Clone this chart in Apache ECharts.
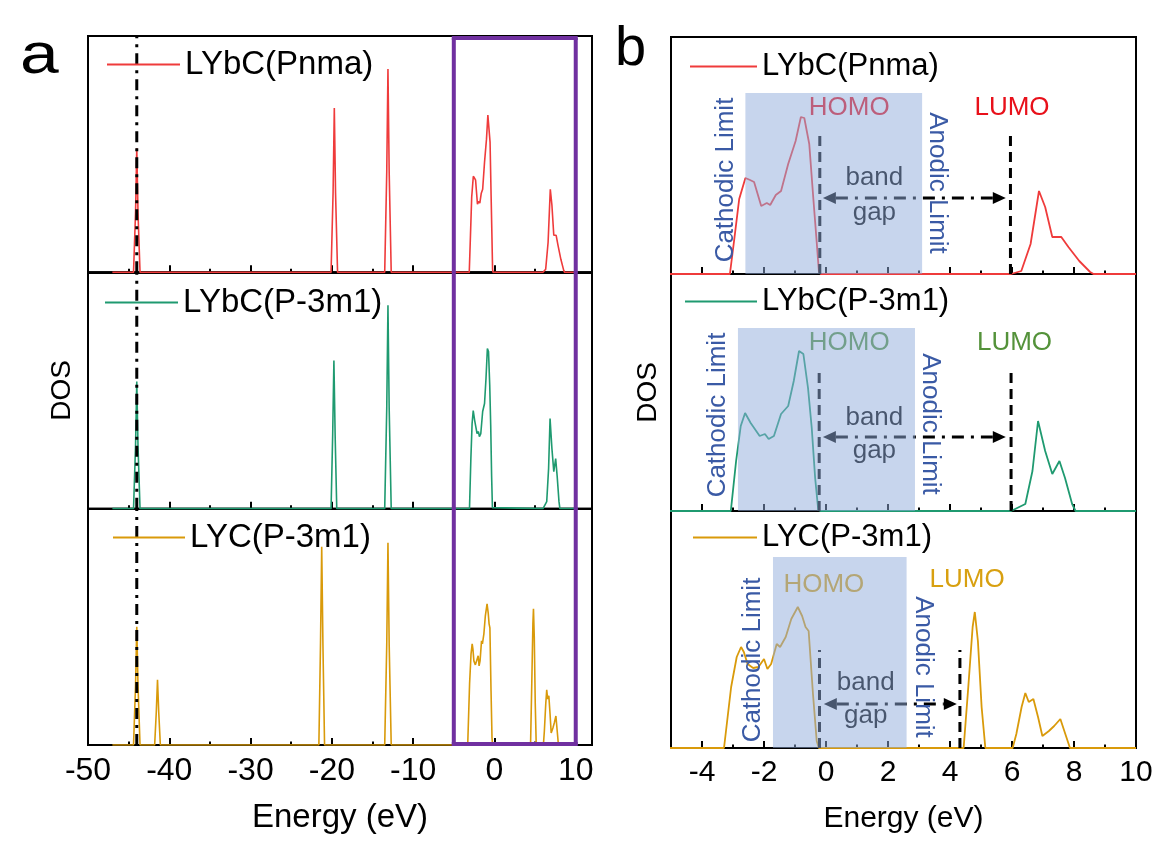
<!DOCTYPE html>
<html><head><meta charset="utf-8">
<script src="https://cdn.jsdelivr.net/npm/echarts@6/dist/echarts.min.js"></script>
<style>html,body{margin:0;padding:0;background:#fff}#c{width:1166px;height:856px}</style>
</head><body><div id="c"></div>
<script>
const FONT = '"Liberation Sans", Arial, Helvetica, sans-serif';

// ---------------- data ----------------
const materials = ['LYbC(Pnma)', 'LYbC(P-3m1)', 'LYC(P-3m1)'];
const lineColors = ['#ef3b3b', '#1f9a70', '#d99a0a'];
const levelColors = ['#e8101a', '#54923a', '#d8a010'];

const energyTicksA = [-50, -40, -30, -20, -10, 0, 10];
const energyTicksB = [-4, -2, 0, 2, 4, 6, 8, 10];

// [energy (eV), DOS (arb. units)]
const dosPnma = [[-47,0],[-44.4,0],[-44.15,6],[-44,12.4],[-43.85,6],[-43.6,0],
  [-20.1,0],[-19.85,8],[-19.7,16.4],[-19.55,8],[-19.3,0],
  [-13.5,0],[-13.25,10],[-13.1,20.3],[-12.95,10],[-12.7,0],
  [-3.1,0],[-2.95,3.7],[-2.8,7.5],[-2.6,9.6],[-2.45,9.4],[-2.32,9.2],[-2.09,6.8],[-1.91,7.1],[-1.8,6.9],
  [-1.62,7.9],[-1.45,8.3],[-1.22,11.0],[-0.98,13.3],[-0.81,15.7],[-0.7,15.6],[-0.54,13.0],[-0.41,7.6],
  [-0.31,3.6],[-0.23,0.3],[-0.17,0],
  [5.97,0],[6.3,0.3],[6.6,3.0],[6.87,8.3],[7.07,6.7],[7.3,3.7],[7.59,3.7],[7.82,2.7],[8.17,1.3],[8.52,0.2],[8.63,0],[10,0]];

const dosP3m1 = [[-47,0],[-44.4,0],[-44.15,6.3],[-44,12.7],[-43.85,6.3],[-43.6,0],
  [-20.1,0],[-19.9,7.4],[-19.75,14.8],[-19.6,7.4],[-19.4,0],
  [-13.5,0],[-13.25,10],[-13.1,20.3],[-12.95,10],[-12.7,0],
  [-3.07,0],[-2.9,5.0],[-2.75,8.5],[-2.61,9.8],[-2.43,8.8],[-2.14,7.5],[-1.97,7.7],[-1.85,7.2],[-1.68,7.5],
  [-1.45,9.7],[-1.22,10.5],[-1.04,13.0],[-0.87,16.0],[-0.73,15.7],[-0.58,12.3],[-0.46,8.3],[-0.35,3.3],
  [-0.25,0.1],[-0.18,0],
  [5.97,0],[6.43,0.7],[6.66,4.0],[6.84,9.0],[7.07,6.0],[7.3,3.7],[7.53,5.0],[7.71,3.3],[7.94,0.7],[8.05,0],[10,0]];

const dosLYC = [[-47,0],[-44.4,0],[-44.15,6],[-44,11.8],[-43.85,6],[-43.6,0],
  [-41.8,0],[-41.6,3.3],[-41.45,6.5],[-41.3,3.3],[-41.1,0],
  [-21.6,0],[-21.4,10],[-21.25,19.8],[-21.1,10],[-20.9,0],
  [-13.5,0],[-13.25,10],[-13.1,20.2],[-12.95,10],[-12.7,0],
  [-3.29,0],[-3.06,6.1],[-2.88,9.1],[-2.74,10.1],[-2.65,9.6],[-2.53,8.4],[-2.35,8.0],[-2.18,8.1],[-2.0,8.9],
  [-1.89,7.9],[-1.77,8.4],[-1.59,10.4],[-1.48,10.1],[-1.3,11.1],[-1.12,12.9],[-0.91,14.1],[-0.77,13.2],
  [-0.66,12.1],[-0.56,11.7],[-0.42,5.4],[-0.3,0.7],[-0.23,0],
  [4.44,0],[4.59,6.1],[4.73,12.1],[4.8,13.6],[4.9,10.7],[5.02,4.1],[5.14,0],
  [6.02,0],[6.14,1.4],[6.31,4.1],[6.43,5.5],[6.54,4.6],[6.69,4.9],[6.84,3.1],[6.98,1.2],[7.19,1.7],
  [7.36,2.2],[7.56,2.9],[7.72,1.4],[7.87,0],[10,0]];

const dosSets = [dosPnma, dosP3m1, dosLYC];

// panel a annotations (eV)
const coreLevelE = -44;
const zoomWindowA = [-5, 10];

// panel b annotations (eV / DOS units)
const stabilityWindow = [[-2.6, 3.1, 18.1], [-2.84, 2.87, 18.3], [-1.71, 2.6, 19.1]];
const homoE = [-0.2, -0.22, -0.21];
const lumoE = [5.95, 5.97, 4.32];
const edgeTop = [14.0, 13.8, 9.8];
const gapArrow = [[-0.1, 5.8, 7.6], [-0.1, 5.8, 7.4], [-0.07, 4.22, 4.4]];
const homoLabel = [[0.75, 16.6], [0.75, 16.8], [-0.07, 16.3]];
const lumoLabel = [[6.0, 16.6], [6.08, 16.8], [4.55, 16.8]];
const bandLabel = [[1.56, 9.6, 6.1], [1.56, 9.3, 6.0], [1.28, 6.5, 3.2]];
const cathodicLabel = [[-3.24, 9.4], [-3.48, 9.6], [-2.35, 8.8]];
const anodicLabel = [[3.59, 9.1], [3.36, 8.7], [3.13, 8.1]];

// ---------------- layout ----------------
const YMAX_A = 23.6, YMAX_B = 23.7;
const gridA = {left: 88, width: 504, top: 36, h: 236.33};
const gridB = {left: 671, width: 465, top: 37, h: 237};

const grids = [], xAxes = [], yAxes = [], series = [], legends = [];
const legendTops = [[48, 286, 521], [51, 286, 522]];
const legendLeft = [[107, 105, 113], [690, 685, 693]];
const legendW = [[73, 73, 72], [67, 72, 64]];

function addPanel(p) {
  const G = p === 0 ? gridA : gridB;
  for (let k = 0; k < 3; k++) {
    const gi = p * 3 + k;
    grids.push({left: G.left, width: G.width, top: G.top + k * G.h, height: G.h,
      show: true, borderColor: '#000', borderWidth: 2, containLabel: false, outerBoundsMode: 'none'});
    const last = k === 2;
    const major = p === 0 ? energyTicksA : energyTicksB;
    const mn = p === 0 ? -50 : -5, mx = p === 0 ? 12 : 10;
    xAxes.push({type: 'value', gridIndex: gi, position: 'bottom', min: mn, max: mx, interval: p === 0 ? 10 : 1,
      axisLine: {show: true, onZero: false, lineStyle: {color: '#000', width: 2}},
      axisTick: {show: true, inside: true, length: 7, customValues: major, lineStyle: {color: '#000', width: 2}},
      axisLabel: {show: last, customValues: major, margin: 10, color: '#000',
        fontSize: p === 0 ? 32 : 30, fontFamily: FONT},
      splitLine: {show: false},
      name: last ? 'Energy (eV)' : '', nameLocation: 'middle', nameGap: 56,
      nameTextStyle: {color: '#000', fontSize: p === 0 ? 33 : 30, fontFamily: FONT}});
    xAxes.push({type: 'value', gridIndex: gi, position: 'bottom', min: mn, max: mx, interval: p === 0 ? 5 : 1,
      axisLine: {show: false}, axisTick: {show: true, inside: true, length: 3.5, lineStyle: {color: '#000', width: 2}},
      axisLabel: {show: false}, splitLine: {show: false}});
    yAxes.push({type: 'value', gridIndex: gi, min: 0, max: p === 0 ? YMAX_A : YMAX_B, show: true,
      axisLine: {show: false}, axisTick: {show: false}, axisLabel: {show: false}, splitLine: {show: false},
      name: k === 1 ? 'DOS' : '', nameLocation: 'middle', nameRotate: 90, nameGap: p === 0 ? 12 : 9,
      nameTextStyle: {color: '#000', fontSize: 28, fontFamily: FONT}});
    series.push({type: 'line', name: materials[k], xAxisIndex: gi * 2, yAxisIndex: gi,
      data: dosSets[k], showSymbol: false, symbol: 'none', smooth: false, clip: true, z: 2,
      lineStyle: {color: lineColors[k], width: p === 0 ? 1.6 : 1.8}, itemStyle: {color: lineColors[k]},
      silent: true});
    series.push({type: 'custom', xAxisIndex: gi * 2, yAxisIndex: gi, z: 3, silent: true, clip: false,
      data: [[0, 0]], renderItem: p === 0 ? renderA(k) : renderB(k)});
    legends.push({data: [materials[k]], left: legendLeft[p][k], top: legendTops[p][k], padding: 0,
      icon: 'rect', itemWidth: legendW[p][k], itemHeight: 2, selectedMode: false,
      textStyle: {color: '#000', fontSize: p === 0 ? 33 : 31, fontFamily: FONT}});
  }
}

function renderA(k) {
  return function (params, api) {
    const els = [];
    const a = api.coord([coreLevelE, 0]), b = api.coord([coreLevelE, YMAX_A]);
    els.push({type: 'line', shape: {x1: a[0], y1: a[1], x2: b[0], y2: b[1]},
      style: {stroke: '#000', lineWidth: 3, lineDash: [11, 6, 3, 6]}});
    const purple = {stroke: '#7030a0', lineWidth: 4};
    zoomWindowA.forEach(function (e) {
      const p0 = api.coord([e, 0]), p1 = api.coord([e, YMAX_A]);
      els.push({type: 'line', shape: {x1: p0[0], y1: p0[1] + (k === 2 ? 0 : 1), x2: p1[0], y2: p1[1] + (k === 0 ? 2 : -1)}, style: purple});
    });
    if (k === 0) {
      const p0 = api.coord([zoomWindowA[0], YMAX_A]), p1 = api.coord([zoomWindowA[1], YMAX_A]);
      els.push({type: 'line', shape: {x1: p0[0] - 2, y1: p0[1] + 2, x2: p1[0] + 2, y2: p1[1] + 2}, style: purple});
    }
    if (k === 2) {
      const p0 = api.coord([zoomWindowA[0], 0]), p1 = api.coord([zoomWindowA[1], 0]);
      els.push({type: 'line', shape: {x1: p0[0] - 2, y1: p0[1] - 1, x2: p1[0] + 2, y2: p1[1] - 1}, style: purple});
    }
    return {type: 'group', children: els};
  };
}

function renderB(k) {
  return function (params, api) {
    const els = [];
    let z = 1;
    const P = (x, y) => api.coord([x, y]);
    const txt = (x, y, text, fill, rot) => {
      const p = P(x, y);
      els.push({type: 'text', x: p[0], y: p[1], rotation: rot || 0, z2: z++,
        style: {text: text, fill: fill, fontSize: 26, fontFamily: FONT, align: 'center', verticalAlign: 'middle'}});
    };
    txt(homoLabel[k][0], homoLabel[k][1], 'HOMO', levelColors[k]);
    txt(bandLabel[k][0], bandLabel[k][1], 'band', '#000');
    txt(bandLabel[k][0], bandLabel[k][2], 'gap', '#000');
    [homoE[k], lumoE[k]].forEach(function (e) {
      const a = P(e, 0), b = P(e, edgeTop[k]);
      els.push({type: 'line', z2: z++, shape: {x1: a[0], y1: a[1], x2: b[0], y2: b[1]},
        style: {stroke: '#000', lineWidth: 3, lineDash: [10, 6]}});
    });
    const L = P(gapArrow[k][0], gapArrow[k][2]), R = P(gapArrow[k][1], gapArrow[k][2]);
    const head = 13, hw = 6;
    els.push({type: 'line', z2: z++, shape: {x1: L[0] + head, y1: L[1], x2: R[0] - head, y2: R[1]},
      style: {stroke: '#000', lineWidth: 3, lineDash: [12, 7, 3, 7]}});
    els.push({type: 'polygon', z2: z++, shape: {points: [[L[0], L[1]], [L[0] + head, L[1] - hw], [L[0] + head, L[1] + hw]]}, style: {fill: '#000'}});
    els.push({type: 'polygon', z2: z++, shape: {points: [[R[0], R[1]], [R[0] - head, R[1] - hw], [R[0] - head, R[1] + hw]]}, style: {fill: '#000'}});
    const r0 = P(stabilityWindow[k][0], stabilityWindow[k][2]), r1 = P(stabilityWindow[k][1], 0);
    els.push({type: 'rect', z2: z++, shape: {x: r0[0], y: r0[1], width: r1[0] - r0[0], height: r1[1] - r0[1]},
      style: {fill: 'rgba(143,171,219,0.5)'}});
    txt(lumoLabel[k][0], lumoLabel[k][1], 'LUMO', levelColors[k]);
    txt(cathodicLabel[k][0], cathodicLabel[k][1], 'Cathodic Limit', '#3a5aa5', Math.PI / 2);
    txt(anodicLabel[k][0], anodicLabel[k][1], 'Anodic Limit', '#3a5aa5', -Math.PI / 2);
    return {type: 'group', children: els};
  };
}

addPanel(0);
addPanel(1);

const chart = echarts.init(document.getElementById('c'), null, {renderer: 'canvas'});
chart.setOption({
  backgroundColor: '#fff',
  animation: false,
  tooltip: {show: false},
  grid: grids, xAxis: xAxes, yAxis: yAxes, series: series, legend: legends,
  graphic: [
    {type: 'text', left: 20, top: 28, scaleX: 1.2, style: {text: 'a', fontSize: 58, fontFamily: FONT, fill: '#000'}},
    {type: 'text', left: 615, top: 22, style: {text: 'b', fontSize: 56, fontFamily: FONT, fill: '#000'}}
  ]
});
</script></body></html>
